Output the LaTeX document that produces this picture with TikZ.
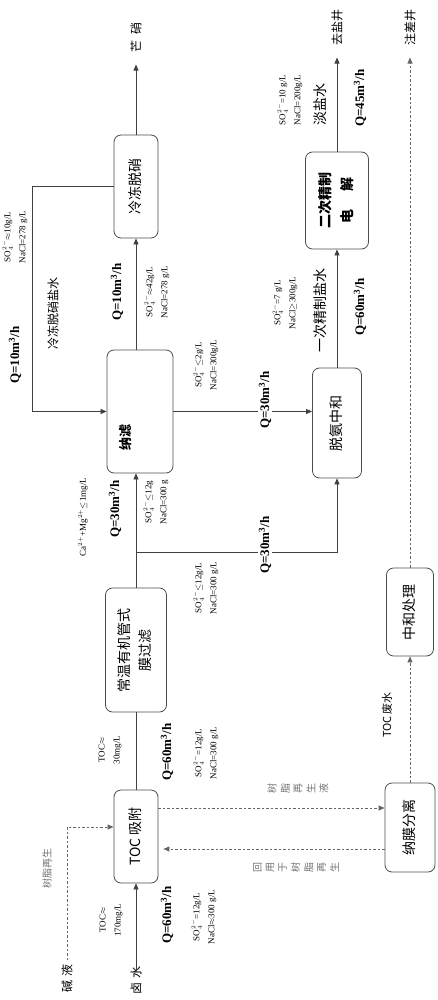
\documentclass[tikz,border=0pt]{standalone}
\usepackage{fontspec}
\setmainfont{Liberation Serif}
\newfontfamily\cjk{Noto Sans CJK SC}
\usetikzlibrary{arrows.meta}

\newcommand{\vtext}[1]{\rotatebox{90}{\begin{tabular}{@{}c@{}}#1\end{tabular}}}
\newcommand{\rotchar}[1]{\rotatebox{90}{#1}\hspace{4pt}}

\tikzset{
  unitbox/.style={draw=black!70, line width=0.8pt, rounded corners=7pt, inner sep=0pt,
    font=\cjk\fontsize{14}{21}\selectfont},
  pipe/.style={draw=black!75, line width=0.7pt},
  flow/.style={pipe, -{Triangle[length=6pt,width=5pt]}},
  waste/.style={draw=black!60, line width=0.7pt, dash pattern=on 2.5pt off 2pt,
    -{Triangle[length=6pt,width=5pt]}},
  rate/.style={rotate=90, inner sep=1pt, font=\bfseries\fontsize{13}{15}\selectfont},
  conc/.style={rotate=90, align=center, inner sep=1pt, font=\fontsize{9}{15}\selectfont},
  stream/.style={rotate=90, font=\cjk\fontsize{12}{14}\selectfont},
  faint/.style={text=black!55, inner sep=1pt, font=\cjk\fontsize{10}{12}\selectfont},
}

\begin{document}
\begin{tikzpicture}[x=1pt,y=-1pt]
  \useasboundingbox (0,0) rectangle (438,1000);

  % process units
  \node[unitbox, minimum width=44pt, minimum height=103pt] (froz) at (136,186.5) {\vtext{冷冻脱硝}};
  \node[unitbox, minimum width=66pt, minimum height=123pt] (nf) at (140,411.5) {};
  \node[rotate=90, font=\cjk\bfseries\fontsize{13}{15}\selectfont] (nflabel) at ([xshift=-14pt,yshift=-25.5pt]nf.center) {纳滤};
  \node[unitbox, minimum width=61pt, minimum height=124pt] (normal) at (136,650) {\vtext{常温有机管式\\膜过滤}};
  \node[unitbox, minimum width=44pt, minimum height=93pt] (toc) at (136,836.5) {\vtext{TOC 吸附}};
  \node[unitbox, minimum width=49pt, minimum height=110pt] (deam) at (337,423) {\vtext{脱氨中和}};
  \node[unitbox, minimum width=63pt, minimum height=97pt, font=\cjk\bfseries\fontsize{14}{22}\selectfont] (elec) at (337,200.5) {\vtext{二次精制\\电\hspace{19pt}解}};
  \node[unitbox, minimum width=47pt, minimum height=88pt] (neut) at (410,612) {\vtext{中和处理}};
  \node[unitbox, minimum width=50pt, minimum height=89pt] (sep) at (410,827.5) {\vtext{纳膜分离}};

  % inlets and outlets
  \node[stream] (mirab) at (136,38) {芒\hspace{6pt}硝};
  \node[stream] (saltwell) at (337,28) {去盐井};
  \node[stream] (injwell) at (410,28) {注差井};
  \node[stream] (brine) at (136,980) {卤\hspace{4pt}水};
  \node[stream] (alkali) at (67,978) {碱\hspace{4pt}液};

  % main line
  \draw[flow, shorten <=-10pt] (brine) -- (toc);
  \draw[pipe] (toc) -- (normal);
  \draw[flow] (normal) -- (normal.north |- nf.south);
  \draw[flow] (normal.north |- nf.north) -- (froz);
  \draw[flow, shorten >=8pt] (froz) -- (mirab);
  \draw[flow] (froz.west) -- ++(-81,0) |- (nf.west);
  \draw[flow] (nf.east) -- (nf.east -| deam.west);
  \draw[flow] (normal.north |- 0,552) -| (deam.south);
  \draw[flow] (deam) -- (elec);
  \draw[flow, shorten >=8pt] (elec) -- (saltwell);

  % side streams
  \draw[waste] (alkali) |- ([yshift=9.5pt]toc.west);
  \draw[waste] ([yshift=28.5pt]toc.east) -- ([yshift=28.5pt]toc.east -| sep.west);
  \draw[waste, shorten >=5pt] ([yshift=-12.5pt]toc.east -| sep.west) -- ([yshift=-12.5pt]toc.east);
  \draw[waste] (sep) -- (neut);
  \draw[waste, shorten >=8pt] (neut) -- (injwell);

  % flow rates
  \node[rate] (q1) at (15,355) {Q=10m\textsuperscript{3}/h};
  \node[rate] (q2) at (117,292) {Q=10m\textsuperscript{3}/h};
  \node[rate] (q3) at (115,509) {Q=30m\textsuperscript{3}/h};
  \node[rate, fill=white] (q4) at (265,400) {Q=30m\textsuperscript{3}/h};
  \node[rate, fill=white] (q5) at (265,545) {Q=30m\textsuperscript{3}/h};
  \node[rate] (q6) at (167,752) {Q=60m\textsuperscript{3}/h};
  \node[rate] (q7) at (167,915) {Q=60m\textsuperscript{3}/h};
  \node[rate] (q8) at (360,307) {Q=60m\textsuperscript{3}/h};
  \node[rate] (q9) at (360,98) {Q=45m\textsuperscript{3}/h};

  % concentrations
  \node[conc] (c1) at (15,237) {SO$_4^{2-}$$\approx$10g/L\\NaCl=278 g/L};
  \node[conc] (c2) at (157,292) {SO$_4^{2-}$$\approx$42g/L\\NaCl=278 g/L};
  \node[conc] (c3) at (206,365) {SO$_4^{2-}$$\le$2g/L\\NaCl=300g/L};
  \node[conc] (c4) at (83,517) {Ca$^{2+}$+Mg$^{2+}$$\le$1mg/L};
  \node[conc] (c5) at (156,502) {SO$_4^{2-}$$\le$12g\\NaCl=300 g};
  \node[conc] (c6) at (206,588) {SO$_4^{2-}$$\le$12g/L\\NaCl=300 g/L};
  \node[conc] (c7) at (110,750) {TOC$\approx$\\30mg/L};
  \node[conc] (c8) at (206,753) {SO$_4^{2-}$=12g/L\\NaCl=300 g/L};
  \node[conc] (c9) at (111,920) {TOC$\approx$\\170mg/L};
  \node[conc] (c10) at (204,917) {SO$_4^{2-}$=12g/L\\NaCl$\approx$300 g/L};
  \node[conc] (c11) at (285,303) {SO$_4^{2-}$=7 g/L\\NaCl$\ge$300g/L};
  \node[conc] (c12) at (290,100) {SO$_4^{2-}$=10 g/L\\NaCl=200g/L};

  % stream names
  \node[stream] (frozbrine) at (53,313) {冷冻脱硝盐水};
  \node[stream, font=\cjk\fontsize{14}{16}\selectfont] (firstbrine) at (320,310) {一次精制盐水};
  \node[stream, font=\cjk\fontsize{14}{16}\selectfont] (weakbrine) at (320,105) {淡盐水};
  \node[stream, font=\cjk\fontsize{11}{13}\selectfont] (tocwater) at (387,715) {TOC 废水};
  \node[stream, text=black!55, font=\cjk\fontsize{10}{12}\selectfont] (regen) at (47,868) {树脂再生};
  \node[faint] (regenliq) at (298,788) {\rotchar{树}\rotchar{脂}\rotchar{再}\rotchar{生}\rotchar{液}};
  \node[faint] (reuse) at (296,867) {\rotchar{回}\rotchar{用}\rotchar{于}\rotchar{树}\rotchar{脂}\rotchar{再}\rotchar{生}};
\end{tikzpicture}
\end{document}
